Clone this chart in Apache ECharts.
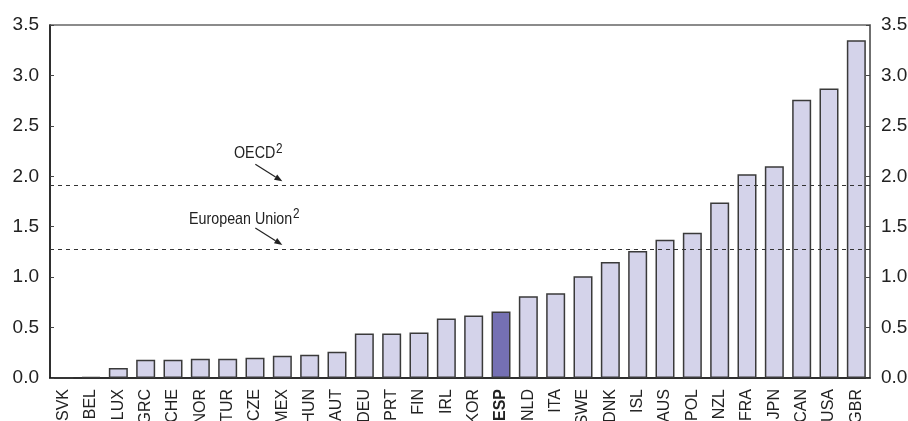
<!DOCTYPE html>
<html>
<head>
<meta charset="utf-8">
<script src="https://cdn.jsdelivr.net/npm/echarts@6/dist/echarts.min.js"></script>
<style>
html,body{margin:0;padding:0;background:#fff;}
#chart{width:908px;height:421px;}
</style>
</head>
<body>
<div id="chart"></div>
<script>
const categories = ['SVK','BEL','LUX','GRC','CHE','NOR','TUR','CZE','MEX','HUN','AUT','DEU','PRT','FIN','IRL','KOR','ESP','NLD','ITA','SWE','DNK','ISL','AUS','POL','NZL','FRA','JPN','CAN','USA','GBR'];
const values = [0.0,0.01,0.10,0.18,0.18,0.19,0.19,0.20,0.22,0.23,0.26,0.44,0.44,0.45,0.59,0.62,0.66,0.81,0.84,1.01,1.15,1.26,1.37,1.44,1.74,2.02,2.10,2.76,2.87,3.35];
const highlightCountry = 'ESP';
const refLines = [
  {name: 'OECD', value: 1.91},
  {name: 'European Union', value: 1.28}
];
const annotationAnchor = 'MEX';

const FONT = 'Liberation Sans, Arial, sans-serif';
const chart = echarts.init(document.getElementById('chart'), null, {renderer: 'canvas'});

const yAxisCommon = {
  type: 'value', min: 0, max: 3.5, interval: 0.5,
  splitLine: {show: false},
  axisTick: {show: true, inside: true, length: 4, lineStyle: {color: '#444', width: 1}},
  axisLabel: {fontFamily: FONT, fontSize: 19, color: '#222', margin: 11, formatter: v => v.toFixed(1)}
};

chart.setOption({
  animation: false,
  grid: {left: 50, right: 38, top: 25, bottom: 43, containLabel: false, outerBoundsMode: 'none',
         show: true, borderColor: '#666', borderWidth: 1.5, backgroundColor: 'transparent'},
  xAxis: {
    type: 'category', data: categories,
    axisLine: {lineStyle: {color: '#111', width: 1.5}},
    axisTick: {show: false},
    axisLabel: {
      rotate: 90, interval: 0, fontFamily: FONT, fontSize: 16, color: '#222', margin: 11,
      formatter: v => v === highlightCountry ? '{b|' + v + '}' : v,
      rich: {b: {fontWeight: 'bold', fontFamily: FONT, fontSize: 16, color: '#222'}}
    }
  },
  yAxis: [
    Object.assign({}, yAxisCommon, {position: 'left', axisLine: {show: true, lineStyle: {color: '#111', width: 1.5}}}),
    Object.assign({}, yAxisCommon, {position: 'right', axisLine: {show: true, lineStyle: {color: '#666', width: 1.5}}})
  ],
  series: [{
    type: 'bar',
    data: values.map((v, i) => ({
      value: v,
      itemStyle: categories[i] === highlightCountry ? {color: '#7570b3'} : undefined
    })),
    barWidth: 19,
    itemStyle: {color: '#d4d3ea', borderColor: '#3a3a3a', borderWidth: 1.5},
    markLine: {
      silent: true, symbol: 'none',
      label: {show: false},
      lineStyle: {type: [4, 4], color: '#333', width: 1},
      data: refLines.map(r => ({yAxis: r.value}))
    }
  }]
});

function arrow(tx, ty, sx, sy) {
  const dx = tx - sx, dy = ty - sy;
  const len = Math.sqrt(dx*dx + dy*dy);
  const ux = dx/len, uy = dy/len;
  const hl = 8, hw = 3;
  const bx = tx - ux*hl, by = ty - uy*hl;
  return [
    {type: 'line', shape: {x1: sx, y1: sy, x2: bx, y2: by}, style: {stroke: '#222', lineWidth: 1.2}, silent: true},
    {type: 'polygon', shape: {points: [[tx, ty], [bx - uy*hw, by + ux*hw], [bx + uy*hw, by - ux*hw]]}, style: {fill: '#222'}, silent: true}
  ];
}

const ax = chart.convertToPixel({xAxisIndex: 0}, annotationAnchor);
const g = [];
const textOffsets = [[-24, -28], [-38, -26]];
refLines.forEach((r, i) => {
  const ly = chart.convertToPixel({yAxisIndex: 0}, r.value);
  const tipX = ax, tipY = ly - 4;
  const sx = tipX - 27, sy = tipY - 17;
  g.push(...arrow(tipX, tipY, sx, sy));
  g.push({
    type: 'text', silent: true,
    x: tipX + textOffsets[i][0], y: tipY + textOffsets[i][1],
    scaleX: 0.84,
    style: {
      text: '{a|' + r.name + '}{s|2}',
      align: 'center', verticalAlign: 'middle',
      rich: {
        a: {fontFamily: FONT, fontSize: 17, fill: '#222'},
        s: {fontFamily: FONT, fontSize: 14, fill: '#222', padding: [0, 0, 9, 1]}
      }
    }
  });
});
chart.setOption({graphic: g});
</script>
</body>
</html>
